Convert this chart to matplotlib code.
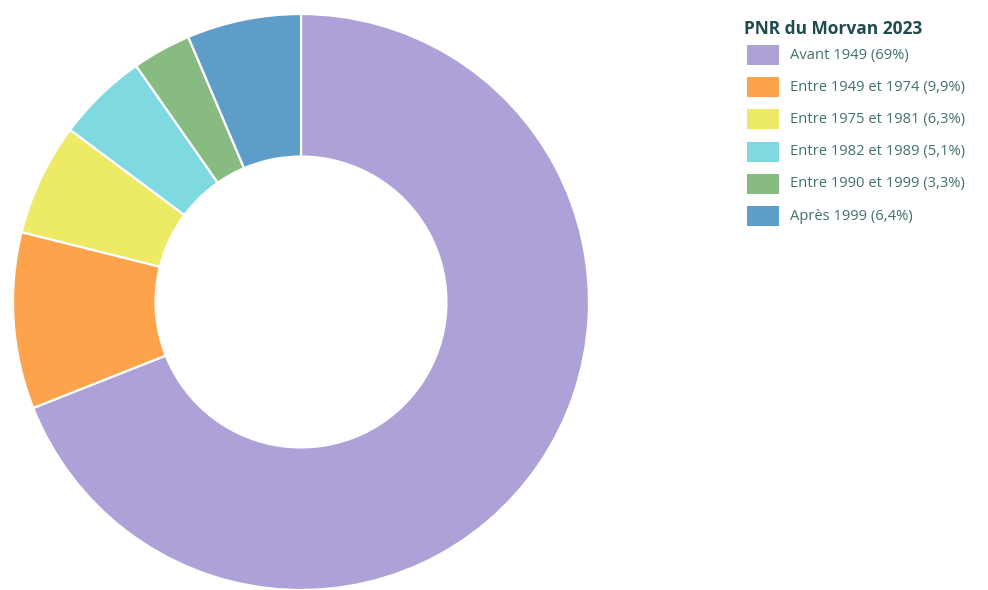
import matplotlib
matplotlib.use("Agg")
import matplotlib.pyplot as plt
from matplotlib.patches import Rectangle

# Period of construction of dwellings, share in percent
categories = ["Avant 1949", "Entre 1949 et 1974", "Entre 1975 et 1981",
              "Entre 1982 et 1989", "Entre 1990 et 1999", "Après 1999"]
shares = [69, 9.9, 6.3, 5.1, 3.3, 6.4]
share_labels = ["69%", "9,9%", "6,3%", "5,1%", "3,3%", "6,4%"]
colors = ["#ADA1D7", "#FCA34C", "#EDEB65", "#7ED9E0", "#88BB82", "#5E9DC8"]
title = "PNR du Morvan 2023"

W, H = 988, 590
fig = plt.figure(figsize=(W / 100, H / 100), dpi=100)
ax = fig.add_axes([0, 0, 1, 1])

outer_r = 288
ring = 0.495
ax.pie(shares, colors=colors, startangle=90, counterclock=False,
       center=(301, H - 302), radius=outer_r,
       wedgeprops=dict(width=outer_r * ring, edgecolor="white", linewidth=1.6))

ax.set_xlim(0, W)
ax.set_ylim(0, H)
ax.set_aspect("equal")
ax.axis("off")

# Legend
ax.text(744, H - 29, title, fontsize=12.5, fontweight="bold", color="#1E4B4E",
        family="Open Sans", va="center", ha="left")
y0, dy = 55, 32.2
for i, (cat, lab, col) in enumerate(zip(categories, share_labels, colors)):
    yc = y0 + i * dy
    ax.add_patch(Rectangle((747, H - yc - 10), 32, 20, facecolor=col, edgecolor="none"))
    ax.text(790, H - yc, f"{cat} ({lab})", fontsize=10.6, color="#41706F",
            family="Open Sans", va="center", ha="left")

fig.savefig("out.png", dpi=100)
